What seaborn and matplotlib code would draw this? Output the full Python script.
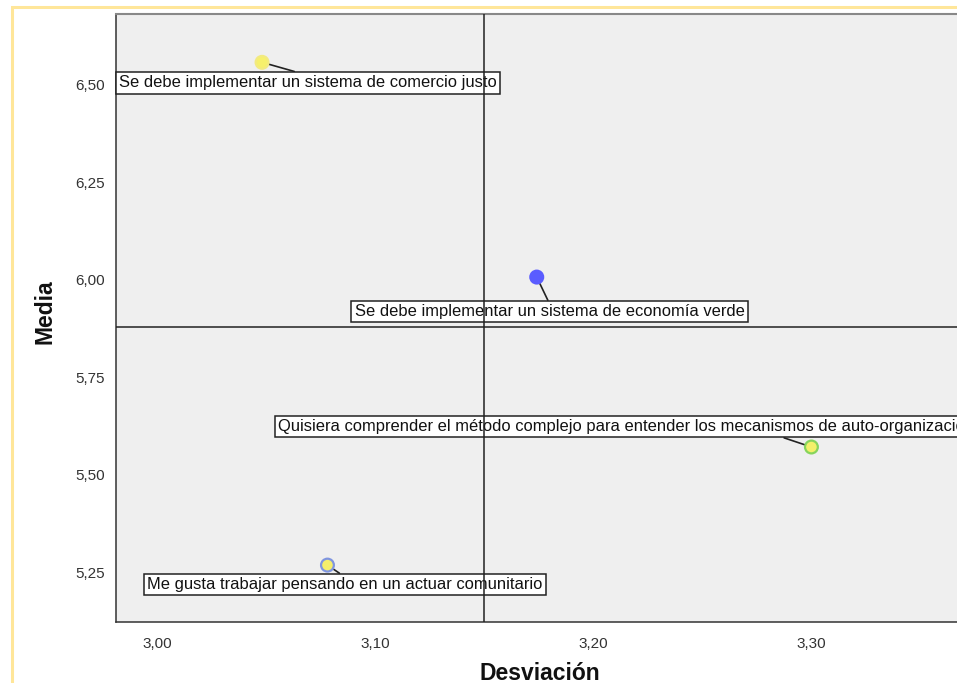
import matplotlib
matplotlib.use("Agg")
import matplotlib.pyplot as plt
import matplotlib.patches as mpatches
from matplotlib.ticker import FuncFormatter
import seaborn as sns
import pandas as pd

# ---- data ----
items = [
    "Se debe implementar un sistema de comercio justo",
    "Se debe implementar un sistema de economía verde",
    "Quisiera comprender el método complejo para entender los mecanismos de auto-organización",
    "Me gusta trabajar pensando en un actuar comunitario",
]
desviacion = [3.048, 3.174, 3.300, 3.078]
media = [6.558, 6.007, 5.571, 5.268]
ref_desviacion = 3.15
ref_media = 5.88
x_ticks = [3.00, 3.10, 3.20, 3.30]
y_ticks = [5.25, 5.50, 5.75, 6.00, 6.25, 6.50]

face_colors = ["#f6f06c", "#5a5cff", "#f3f06a", "#f4ee6c"]
edge_colors = ["#f2ea80", "#5a5cff", "#86d45c", "#7f95e0"]

# label offsets (pixels) and leader-line anchor on the box
label_offsets = [(-143, -20.5), (-182, -34.5), (-533, 20.5), (-180, -19.5)]
label_relpos = [(0.5, 1.0), (0.5, 1.0), (0.71, 0.0), (0.5, 1.0)]

df = pd.DataFrame({"item": items, "desviacion": desviacion, "media": media})

sns.set_style("white")
plt.rcParams["font.family"] = ["Liberation Sans", "DejaVu Sans"]

W, H = 957, 683
fig = plt.figure(figsize=(W / 100, H / 100), dpi=100)
fig.patch.set_facecolor("white")

# yellow frame of the output viewer
frame = mpatches.Rectangle((12 / W, -0.1), 1.2, 1 - 7 / H + 0.1, transform=fig.transFigure,
                           fill=False, edgecolor="#ffe699", linewidth=2.2, zorder=0)
fig.patches.append(frame)

left, bottom, top = 116, 61, 669
xlim = (2.981, 3.40)
px_per_unit = 2180.0
width_px = (xlim[1] - xlim[0]) * px_per_unit
ax = fig.add_axes([left / W, bottom / H, width_px / W, (top - bottom) / H])
ax.set_facecolor("#efefef")

sns.scatterplot(data=df, x="desviacion", y="media", hue="item",
                palette=dict(zip(items, face_colors)), edgecolor=edge_colors,
                linewidth=1.6, s=85, legend=False, ax=ax, zorder=5)

ax.set_xlim(*xlim)
ax.set_ylim(5.122, 6.682)

ax.axvline(ref_desviacion, color="#222222", lw=1.1, zorder=6)
ax.axhline(ref_media, color="#222222", lw=1.1, zorder=6)

for i, (txt, xv, yv) in enumerate(zip(items, desviacion, media)):
    ax.annotate(txt, xy=(xv, yv), xytext=label_offsets[i], textcoords="offset pixels",
                ha="left", va="center", fontsize=11.9, color="#111111",
                annotation_clip=False, zorder=4,
                bbox=dict(boxstyle="square,pad=0.2", fc="white", ec="#222222", lw=1.1),
                arrowprops=dict(arrowstyle="-", color="#222222", lw=1.2,
                                relpos=label_relpos[i], shrinkA=0, shrinkB=5))

fmt = FuncFormatter(lambda v, p: f"{v:.2f}".replace(".", ","))
ax.set_xticks(x_ticks)
ax.set_yticks(y_ticks)
ax.xaxis.set_major_formatter(fmt)
ax.yaxis.set_major_formatter(fmt)
ax.tick_params(axis="both", direction="out", length=7, width=1.3, color="#333333",
               labelsize=11, labelcolor="#333333", pad=1)
ax.tick_params(axis="x", pad=4)

for side in ["left", "bottom"]:
    ax.spines[side].set_color("#333333")
    ax.spines[side].set_linewidth(1.1)
ax.spines["top"].set_color("#888888")
ax.spines["top"].set_linewidth(1.5)
ax.spines["right"].set_visible(False)

ax.set_xlabel("Desviación", fontsize=16.5, fontweight="bold", color="#111111")
ax.set_ylabel("Media", fontsize=16.5, fontweight="bold", color="#111111")
ax.xaxis.set_label_coords((540 - left) / width_px, (683 - 673 - bottom) / (top - bottom))
ax.xaxis.label.set_va("center")
ax.yaxis.set_label_coords((45 - left) / width_px, (683 - 312 - bottom) / (top - bottom))
ax.yaxis.label.set_va("center")

fig.savefig("out.png", dpi=100)
